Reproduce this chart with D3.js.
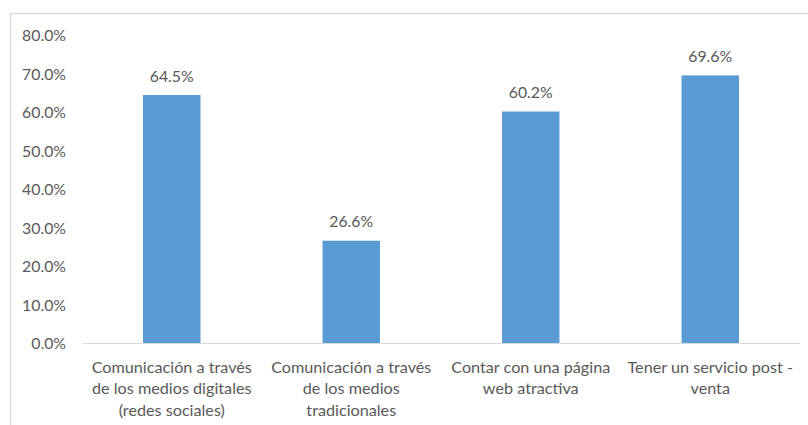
<!DOCTYPE html>
<html>
<head>
<meta charset="utf-8">
<script src="https://cdn.jsdelivr.net/npm/d3@7"></script>
<style>
  html, body { margin: 0; padding: 0; background: #fff; }
  svg { display: block; }
  text { font-family: Lato, "Liberation Sans", sans-serif; fill: #595959; }
</style>
</head>
<body>
<svg id="chart" width="808" height="425"></svg>
<script>
// Data
const categories = [
  ["Comunicación a través", "de los medios digitales", "(redes sociales)"],
  ["Comunicación a través", "de los medios", "tradicionales"],
  ["Contar con una página", "web atractiva"],
  ["Tener un servicio post -", "venta"]
];
const values = [64.5, 26.6, 60.2, 69.6];
const yTicks = [0, 10, 20, 30, 40, 50, 60, 70, 80];

const svg = d3.select("#chart");
const W = 808, H = 425;
const margin = { left: 82, right: 8 };

// Frame lines (top and left)
svg.append("line").attr("x1", 10).attr("x2", W).attr("y1", 13.5).attr("y2", 13.5)
  .attr("stroke", "#d9d9d9").attr("stroke-width", 1.5);
svg.append("line").attr("x1", 10.5).attr("x2", 10.5).attr("y1", 13).attr("y2", H)
  .attr("stroke", "#d9d9d9").attr("stroke-width", 1.5);

const x = d3.scaleBand()
  .domain(d3.range(categories.length))
  .range([margin.left, W - margin.right])
  .paddingInner(0.68)
  .paddingOuter(0.34);

const y = d3.scaleLinear()
  .domain([0, 80])
  .range([343, 35.4]);

// Y axis labels
const yAxis = d3.axisLeft(y)
  .tickValues(yTicks)
  .tickFormat(d => d.toFixed(1) + "%")
  .tickSize(0)
  .tickPadding(0);
const gy = svg.append("g").attr("transform", "translate(66,0)").call(yAxis);
gy.select(".domain").remove();
gy.selectAll("text").style("font-size", "15.8px").attr("fill", "#595959")
  .attr("dy", "0.35em").style("font-family", "Lato, sans-serif");

// Bars
svg.append("g").selectAll("rect")
  .data(values)
  .join("rect")
  .attr("x", (d, i) => x(i))
  .attr("width", x.bandwidth())
  .attr("y", d => y(d))
  .attr("height", d => y(0) - y(d))
  .attr("fill", "#5B9BD5");

// Baseline
svg.append("line")
  .attr("x1", 83).attr("x2", 800)
  .attr("y1", y(0) + 0.5).attr("y2", y(0) + 0.5)
  .attr("stroke", "#d9d9d9").attr("stroke-width", 1);

// Value labels
svg.append("g").selectAll("text")
  .data(values)
  .join("text")
  .attr("x", (d, i) => x(i) + x.bandwidth() / 2)
  .attr("y", d => y(d) - 19)
  .attr("dy", "0.35em")
  .attr("text-anchor", "middle")
  .style("font-size", "15.8px")
  .text(d => d.toFixed(1) + "%");

// Category labels
const cat = svg.append("g").selectAll("text")
  .data(categories)
  .join("text")
  .attr("text-anchor", "middle")
  .attr("transform", (d, i) => `translate(${x(i) + x.bandwidth() / 2},367)`)
  .style("font-size", "16.2px");
cat.selectAll("tspan")
  .data(d => d)
  .join("tspan")
  .attr("x", 0)
  .attr("y", (d, j) => j * 21.5)
  .attr("dy", "0.35em")
  .text(d => d);
</script>
</body>
</html>
